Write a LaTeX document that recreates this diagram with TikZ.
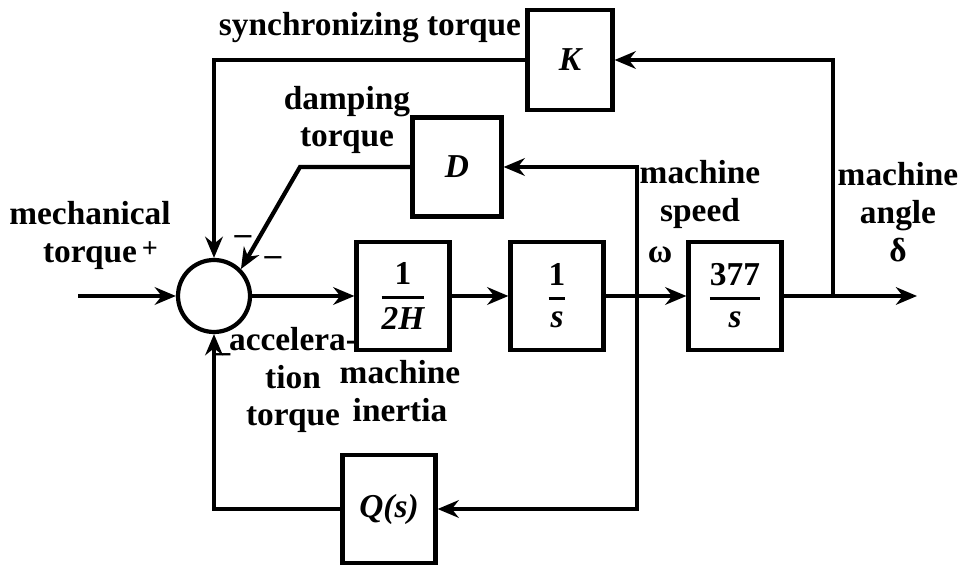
\documentclass[tikz,border=0pt]{standalone}
\usepackage{amsmath}
\usepackage{fontspec}
\setmainfont{Liberation Serif}
\usetikzlibrary{arrows.meta}

\newcommand{\blockfrac}[2]{$\genfrac{}{}{0.8pt}{0}{\text{#1}}{\text{#2}}$}

\begin{document}
\begin{tikzpicture}[x=0.1mm, y=-0.1mm, >={Stealth[length=6pt, width=5pt]}, line width=1.2pt,
    font=\fontsize{9.5}{10.8}\selectfont\bfseries,
    block/.style={draw, minimum width=9.3mm, minimum height=10.8mm, inner sep=0pt},
    sign/.style={inner sep=0pt}]
    \useasboundingbox (0,0) rectangle (964,566);

    % Blocks
    \node[circle, draw, minimum size=7.2mm] (sum) at (214,296) {};
    \node[block] (inertia) at (403,296) {\blockfrac{1}{\itshape 2H}};
    \node[block] (integ) at (557,296) {\blockfrac{1}{\itshape s}};
    \node[block] (angle) at (735,296) {\blockfrac{377}{\itshape s}};
    \node[block, minimum width=8.5mm, minimum height=10mm] (K) at (570,60) {\itshape K};
    \node[block, minimum width=8.9mm, minimum height=9.9mm] (D) at (457,167) {\itshape D};
    \node[block] (Q) at (389,509) {\itshape Q(s)};

    % Branch points and free ends
    \coordinate (in) at (78,296);
    \coordinate (out) at (917,296);
    \coordinate (w) at (637,296);
    \coordinate (d) at (833,296);
    \coordinate (dk) at (300,167);

    % Forward path
    \draw[->] (in) -- (sum);
    \draw[->] (sum) -- (inertia);
    \draw[->] (inertia) -- (integ);
    \draw[->] (integ) -- (angle);
    \draw[->] (angle) -- (out);

    % Feedback paths
    \draw[->] (d) |- (K);
    \draw[->] (K) -| (sum);
    \draw[->] (w) |- (D);
    \draw[->] (D) -- (dk) -- (sum.45);
    \draw[->] (w) |- (Q);
    \draw[->] (Q) -| (sum);

    % Labels
    \node (sync) at (370,28) {synchronizing torque};
    \node[align=center] (damp) at (347,120) {damping\\torque};
    \node[align=center] (mech) at (90,235) {mechanical\\torque};
    \node (plus) at (150,250) {\footnotesize +};
    \node[sign] (m1) at (243,240) {–};
    \node[sign] (m2) at (273,261) {–};
    \node[sign] (m3) at (222,358) {–};
    \node[align=center, inner sep=0pt] (acc) at (293,380) {accelera-\\tion\\torque};
    \node[align=center] (inert) at (400,391) {machine\\inertia};
    \node[align=center] (speed) at (700,194) {machine\\speed};
    \node (omega) at (660,255) {ω};
    \node[align=center] (mangle) at (898,212) {machine\\angle\\δ};
\end{tikzpicture}
\end{document}
